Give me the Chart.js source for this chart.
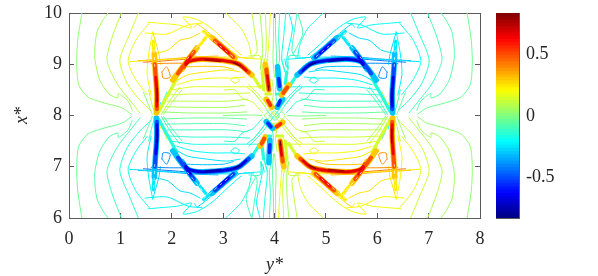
<!DOCTYPE html>
<html><head><meta charset="utf-8">
<script src="https://cdn.jsdelivr.net/npm/chart.js@4"></script>
<style>html,body{margin:0;background:#fff}canvas{position:absolute;left:0;top:0}</style>
</head><body>
<canvas id="main" width="598" height="276"></canvas>
<canvas id="bar" width="598" height="276"></canvas>
<script>
// every entry: [value, y*,x*, y*,x*, ...]
const xTicks=[0,1,2,3,4,5,6,7,8];
const yTicks=[6,7,8,9,10];
const barTicks=[-0.5,0,0.5];
const barMin=-0.83, barMax=0.837;
const upperLeftLines=[
[.03,.25,10,.17,9.47,.15,9.02,.19,8.6,.37,8.36,.7,8.24,1.03,8.15,1.21,8.03],
[.06,.76,10,.66,9.86,.54,9.61,.5,9.14,.6,8.69,.78,8.42,.95,8.34,.96,8.43,1.15,8.28,1.23,8.1],
[.09,1.02,10,.84,9.53,.74,9.08,.93,8.63,1.23,8.24,1.38,8.05],
[.13,1.35,10,1.19,9.61,.99,9.08,1.13,8.63,1.38,8.3,1.58,8.11],
[.17,1.58,9.82,1.3,9.47,1.15,9.06,1.3,8.7,1.52,8.41],
[.19,1.54,9.82,1.77,9.8,2.1,9.77,2.39,9.71,2.22,9.92,2.5,9.87,2.8,9.68,3.1,9.4,3.35,9.18],
[.22,1.48,9.61,1.91,9.59,2.32,9.77,2.59,9.8],
[.26,1.71,9.22,1.93,9.28,2.16,9.47,2.35,9.51,2.55,9.61],
[.27,2.44,9.72,2.5,9.78,2.8,9.55,3.1,9.3,3.3,9.15],
[.1,3.56,10,3.62,9.6,3.66,9.25,3.55,9.12],
[.15,3.05,10,3.35,9.7,3.5,9.4,3.55,9.15],
[.25,1.18,9.05,2,9.1,3,9.14,3.6,9.12],
[.45,1.45,9.04,1.9,9.07,2.4,9.11],[.35,1.35,9.07,1.9,9.1,2.4,9.14,2.9,9.16],[.4,1.6,9.01,1.95,9.02,2.3,9.02],
[.22,1.63,9.63,1.55,9.2,1.52,8.8,1.6,8.4],
[.26,1.63,9.63,1.75,9.2,1.78,9],
[.4,1.81,8.85,1.9,8.95,1.97,8.75,1.83,8.73,1.81,8.85],
[.3,2.3,8.95,2.6,8.96,3,8.95,3.2,8.9],
[.25,2.02,8.63,2.3,8.79,2.68,8.85,3.07,8.89,3.33,8.85],
[.2,2.1,8.6,2.41,8.69,2.8,8.73,3.19,8.73,3.42,8.75],
[.16,2,8.5,2.41,8.56,2.88,8.56,3.37,8.56,3.77,8.56],
[.13,1.93,8.4,2.41,8.42,3.07,8.42,3.52,8.44],
[.1,1.91,8.28,2.41,8.28,3.07,8.28,3.48,8.32],
[.07,1.87,8.17,2.35,8.16,3.07,8.16,3.42,8.2],
[.04,1.81,8.07,2.35,8.05,3.07,8.05,3.46,8.07],
[.16,3.15,8.69,3.23,8.75,3.32,8.69,3.23,8.63,3.15,8.69],
[.2,1.75,8.05,1.9,8.35,2.06,8.6],
[.12,1.8,8.02,1.97,8.3,2.15,8.55],
[.07,1.84,8.02,2,8.25,2.2,8.5],
[-.2,1.74,8.03,1.78,8.25],
[-.1,1.76,8.05,1.82,8.25,1.9,8.45],
[.1,1.55,8.5,1.62,8.2,1.68,8.02],
[.04,1.45,8.45,1.55,8.2,1.62,8.02]
];
const upperRightLines=[
[-.03,7.75,10,7.83,9.47,7.85,9.02,7.81,8.6,7.63,8.36,7.3,8.24,6.97,8.15,6.79,8.03],
[-.06,7.24,10,7.34,9.86,7.46,9.61,7.5,9.14,7.4,8.69,7.22,8.42,7.05,8.34,7.04,8.43,6.85,8.28,6.77,8.1],
[-.09,6.98,10,7.16,9.53,7.26,9.08,7.07,8.63,6.77,8.24,6.62,8.05],
[-.13,6.65,10,6.81,9.61,7.01,9.08,6.87,8.63,6.62,8.3,6.42,8.11],
[-.17,6.42,9.82,6.7,9.47,6.85,9.06,6.7,8.7,6.48,8.41],
[-.19,6.46,9.82,6.23,9.8,5.9,9.77,5.61,9.71,5.78,9.92,5.5,9.87,5.2,9.68,4.9,9.4,4.65,9.18],
[-.22,6.52,9.61,6.09,9.59,5.68,9.77,5.41,9.8],
[-.26,6.29,9.22,6.07,9.28,5.84,9.47,5.65,9.51,5.45,9.61],
[-.27,5.56,9.72,5.5,9.78,5.2,9.55,4.9,9.3,4.7,9.15],
[-.1,4.44,10,4.38,9.6,4.34,9.25,4.45,9.12],
[-.15,4.95,10,4.65,9.7,4.5,9.4,4.45,9.15],
[-.25,6.82,9.05,6,9.1,5,9.14,4.4,9.12],
[-.45,6.55,9.04,6.1,9.07,5.6,9.11],[-.35,6.65,9.07,6.1,9.1,5.6,9.14,5.1,9.16],[-.4,6.4,9.01,6.05,9.02,5.7,9.02],
[-.22,6.37,9.63,6.45,9.2,6.48,8.8,6.4,8.4],
[-.26,6.37,9.63,6.25,9.2,6.22,9],
[-.4,6.19,8.85,6.1,8.95,6.03,8.75,6.17,8.73,6.19,8.85],
[-.3,5.7,8.95,5.4,8.96,5,8.95,4.8,8.9],
[-.25,5.98,8.63,5.7,8.79,5.32,8.85,4.93,8.89,4.67,8.85],
[-.2,5.9,8.6,5.59,8.69,5.2,8.73,4.81,8.73,4.58,8.75],
[-.16,6,8.5,5.59,8.56,5.12,8.56,4.63,8.56,4.23,8.56],
[-.13,6.07,8.4,5.59,8.42,4.93,8.42,4.48,8.44],
[-.1,6.09,8.28,5.59,8.28,4.93,8.28,4.52,8.32],
[-.07,6.13,8.17,5.65,8.16,4.93,8.16,4.58,8.2],
[-.04,6.19,8.07,5.65,8.05,4.93,8.05,4.54,8.07],
[-.16,4.85,8.69,4.77,8.75,4.68,8.69,4.77,8.63,4.85,8.69],
[-.2,6.25,8.05,6.1,8.35,5.94,8.6],
[-.12,6.2,8.02,6.03,8.3,5.85,8.55],
[-.07,6.16,8.02,6,8.25,5.8,8.5],
[.2,6.26,8.03,6.22,8.25],
[.1,6.24,8.05,6.18,8.25,6.1,8.45],
[-.1,6.45,8.5,6.38,8.2,6.32,8.02],
[-.04,6.55,8.45,6.45,8.2,6.38,8.02]
];
const lowerLeftLines=[
[-.03,.25,6,.17,6.53,.15,6.98,.19,7.4,.37,7.64,.7,7.76,1.03,7.85,1.21,7.97],
[-.06,.76,6,.66,6.14,.54,6.39,.5,6.86,.6,7.31,.78,7.58,.95,7.66,.96,7.57,1.15,7.72,1.23,7.9],
[-.09,1.02,6,.84,6.47,.74,6.92,.93,7.37,1.23,7.76,1.38,7.95],
[-.13,1.35,6,1.19,6.39,.99,6.92,1.13,7.37,1.38,7.7,1.58,7.89],
[-.17,1.58,6.18,1.3,6.53,1.15,6.94,1.3,7.3,1.52,7.59],
[-.19,1.54,6.18,1.77,6.2,2.1,6.23,2.39,6.29,2.22,6.08,2.5,6.13,2.8,6.32,3.1,6.6,3.35,6.82],
[-.22,1.48,6.39,1.91,6.41,2.32,6.23,2.59,6.2],
[-.26,1.71,6.78,1.93,6.72,2.16,6.53,2.35,6.49,2.55,6.39],
[-.27,2.44,6.28,2.5,6.22,2.8,6.45,3.1,6.7,3.3,6.85],
[-.1,3.56,6,3.62,6.4,3.66,6.75,3.55,6.88],
[-.15,3.05,6,3.35,6.3,3.5,6.6,3.55,6.85],
[-.25,1.18,6.95,2,6.9,3,6.86,3.6,6.88],
[-.45,1.45,6.96,1.9,6.93,2.4,6.89],[-.35,1.35,6.93,1.9,6.9,2.4,6.86,2.9,6.84],[-.4,1.6,6.99,1.95,6.98,2.3,6.98],
[-.22,1.63,6.37,1.55,6.8,1.52,7.2,1.6,7.6],
[-.26,1.63,6.37,1.75,6.8,1.78,7],
[-.4,1.81,7.15,1.9,7.05,1.97,7.25,1.83,7.27,1.81,7.15],
[-.3,2.3,7.05,2.6,7.04,3,7.05,3.2,7.1],
[-.25,2.02,7.37,2.3,7.21,2.68,7.15,3.07,7.11,3.33,7.15],
[-.2,2.1,7.4,2.41,7.31,2.8,7.27,3.19,7.27,3.42,7.25],
[-.16,2,7.5,2.41,7.44,2.88,7.44,3.37,7.44,3.77,7.44],
[-.13,1.93,7.6,2.41,7.58,3.07,7.58,3.52,7.56],
[-.1,1.91,7.72,2.41,7.72,3.07,7.72,3.48,7.68],
[-.07,1.87,7.83,2.35,7.84,3.07,7.84,3.42,7.8],
[-.04,1.81,7.93,2.35,7.95,3.07,7.95,3.46,7.93],
[-.16,3.15,7.31,3.23,7.25,3.32,7.31,3.23,7.37,3.15,7.31],
[-.2,1.75,7.95,1.9,7.65,2.06,7.4],
[-.12,1.8,7.98,1.97,7.7,2.15,7.45],
[-.07,1.84,7.98,2,7.75,2.2,7.5],
[.2,1.74,7.97,1.78,7.75],
[.1,1.76,7.95,1.82,7.75,1.9,7.55],
[-.1,1.55,7.5,1.62,7.8,1.68,7.98],
[-.04,1.45,7.55,1.55,7.8,1.62,7.98]
];
const lowerRightLines=[
[.03,7.75,6,7.83,6.53,7.85,6.98,7.81,7.4,7.63,7.64,7.3,7.76,6.97,7.85,6.79,7.97],
[.06,7.24,6,7.34,6.14,7.46,6.39,7.5,6.86,7.4,7.31,7.22,7.58,7.05,7.66,7.04,7.57,6.85,7.72,6.77,7.9],
[.09,6.98,6,7.16,6.47,7.26,6.92,7.07,7.37,6.77,7.76,6.62,7.95],
[.13,6.65,6,6.81,6.39,7.01,6.92,6.87,7.37,6.62,7.7,6.42,7.89],
[.17,6.42,6.18,6.7,6.53,6.85,6.94,6.7,7.3,6.48,7.59],
[.19,6.46,6.18,6.23,6.2,5.9,6.23,5.61,6.29,5.78,6.08,5.5,6.13,5.2,6.32,4.9,6.6,4.65,6.82],
[.22,6.52,6.39,6.09,6.41,5.68,6.23,5.41,6.2],
[.26,6.29,6.78,6.07,6.72,5.84,6.53,5.65,6.49,5.45,6.39],
[.27,5.56,6.28,5.5,6.22,5.2,6.45,4.9,6.7,4.7,6.85],
[.1,4.44,6,4.38,6.4,4.34,6.75,4.45,6.88],
[.15,4.95,6,4.65,6.3,4.5,6.6,4.45,6.85],
[.25,6.82,6.95,6,6.9,5,6.86,4.4,6.88],
[.45,6.55,6.96,6.1,6.93,5.6,6.89],[.35,6.65,6.93,6.1,6.9,5.6,6.86,5.1,6.84],[.4,6.4,6.99,6.05,6.98,5.7,6.98],
[.22,6.37,6.37,6.45,6.8,6.48,7.2,6.4,7.6],
[.26,6.37,6.37,6.25,6.8,6.22,7],
[.4,6.19,7.15,6.1,7.05,6.03,7.25,6.17,7.27,6.19,7.15],
[.3,5.7,7.05,5.4,7.04,5,7.05,4.8,7.1],
[.25,5.98,7.37,5.7,7.21,5.32,7.15,4.93,7.11,4.67,7.15],
[.2,5.9,7.4,5.59,7.31,5.2,7.27,4.81,7.27,4.58,7.25],
[.16,6,7.5,5.59,7.44,5.12,7.44,4.63,7.44,4.23,7.44],
[.13,6.07,7.6,5.59,7.58,4.93,7.58,4.48,7.56],
[.1,6.09,7.72,5.59,7.72,4.93,7.72,4.52,7.68],
[.07,6.13,7.83,5.65,7.84,4.93,7.84,4.58,7.8],
[.04,6.19,7.93,5.65,7.95,4.93,7.95,4.54,7.93],
[.16,4.85,7.31,4.77,7.25,4.68,7.31,4.77,7.37,4.85,7.31],
[.2,6.25,7.95,6.1,7.65,5.94,7.4],
[.12,6.2,7.98,6.03,7.7,5.85,7.45],
[.07,6.16,7.98,6,7.75,5.8,7.5],
[-.2,6.26,7.97,6.22,7.75],
[-.1,6.24,7.95,6.18,7.75,6.1,7.55],
[.1,6.45,7.5,6.38,7.8,6.32,7.98],
[.04,6.55,7.55,6.45,7.8,6.38,7.98]
];
const centerLines=[
[.06,3.72,10,3.76,9.5,3.76,9.12,3.72,8.9],[.12,3.82,10,3.84,9.5,3.82,9.12,3.74,8.8],
[.18,3.92,10,3.9,9.6,3.86,9.12,3.78,8.8],[.03,3.98,10,3.98,9.5,3.97,9.1,4,8.75],
[-.05,4.02,10,4.02,9.6,4.04,9.12,4.02,8.75],[-.1,4.1,10,4.08,9.5,4.1,9.12,4.05,8.85],
[-.16,4.22,10,4.18,9.55,4.14,9.12,4.2,8.85],[-.21,4.28,10,4.35,9.7,4.24,9.12,4.26,8.9],
[-.08,4.45,10,4.55,9.6,4.35,9.17],
[.06,4.28,6,4.24,6.5,4.24,6.88,4.28,7.1],[.12,4.18,6,4.16,6.5,4.18,6.88,4.26,7.2],
[.18,4.08,6,4.1,6.4,4.14,6.88,4.22,7.2],[.03,4.02,6,4.02,6.5,4.03,6.9,4,7.25],
[-.05,3.98,6,3.98,6.4,3.96,6.88,3.98,7.25],[-.1,3.9,6,3.92,6.5,3.9,6.88,3.95,7.15],
[-.16,3.78,6,3.82,6.45,3.86,6.88,3.8,7.15],[-.21,3.72,6,3.65,6.3,3.76,6.88,3.74,7.1],
[-.08,3.55,6,3.45,6.4,3.65,6.83],
[.08,3.87,9.1,3.8,8.9],[.25,3.8,9.1,3.77,8.95],[-.25,4.2,9.1,4.23,8.95],[-.08,4.13,9.1,4.2,8.9],
[.08,4.13,6.9,4.2,7.1],[.25,4.2,6.9,4.23,7.05],[-.25,3.8,6.9,3.77,7.05],[-.08,3.87,6.9,3.8,7.1],
[.14,3.5,8.6,3.7,8.4,3.82,8.25,3.92,8.1,4,8],[.08,3.55,8.5,3.72,8.3,3.85,8.12],[.2,3.62,8.72,3.78,8.52,3.85,8.4],
[-.14,4.5,8.6,4.3,8.4,4.18,8.25,4.08,8.1,4,8],[-.08,4.45,8.5,4.28,8.3,4.15,8.12],[-.2,4.38,8.72,4.22,8.52,4.15,8.4],
[-.14,3.5,7.4,3.7,7.6,3.82,7.75,3.92,7.9,4,8],[-.08,3.55,7.5,3.72,7.7,3.85,7.88],[-.2,3.62,7.28,3.78,7.48,3.85,7.6],
[.14,4.5,7.4,4.3,7.6,4.18,7.75,4.08,7.9,4,8],[.08,4.45,7.5,4.28,7.7,4.15,7.88],[.2,4.38,7.28,4.22,7.48,4.15,7.6],
[.05,3.8,8,4,8.18,4.2,8,4,7.82,3.8,8],[-.05,3.9,8,4,8.09,4.1,8,4,7.91,3.9,8],
[-.1,3.85,8.1,4,7.95,4.15,8.1],[.1,3.85,7.9,4,8.05,4.15,7.9],[-.15,3.93,8.15,4.07,8.15],[.15,3.93,7.85,4.07,7.85],
[.12,3.03,8.5,3.23,8.5,3.37,8.34,3.58,8.26,3.68,8.15,3.77,8.05],
[-.12,4.97,8.5,4.77,8.5,4.63,8.34,4.42,8.26,4.32,8.15,4.23,8.05],
[-.12,3.03,7.5,3.23,7.5,3.37,7.66,3.58,7.74,3.68,7.85,3.77,7.95],
[.12,4.97,7.5,4.77,7.5,4.63,7.66,4.42,7.74,4.32,7.85,4.23,7.95],
[0,3,8,3.5,8.01,3.75,8],[0,5,8,4.5,7.99,4.25,8],
[.2,3.47,8.55,3.62,8.42,3.72,8.3,3.8,8.2],[-.2,4.53,8.55,4.38,8.42,4.28,8.3,4.2,8.2],
[-.2,3.47,7.45,3.62,7.58,3.72,7.7,3.8,7.8],[.2,4.53,7.45,4.38,7.58,4.28,7.7,4.2,7.8],
[.1,3.95,8.7,3.98,8.45,3.95,8.25],[-.1,4.05,8.7,4.02,8.45,4.05,8.25],
[-.1,3.95,7.3,3.98,7.55,3.95,7.75],[.1,4.05,7.3,4.02,7.55,4.05,7.75],
[.18,3.4,9.12,3.75,9.1],[.12,3.5,9.16,3.72,9.16,3.73,8.9],[-.18,4.6,9.12,4.25,9.1],[-.12,4.5,9.16,4.28,9.16,4.27,8.9],
[-.18,3.4,6.88,3.75,6.9],[-.12,3.5,6.84,3.72,6.84,3.73,7.1],[.18,4.6,6.88,4.25,6.9],[.12,4.5,6.84,4.28,6.84,4.27,7.1]
];
const upperLeftRidges=[
[.14,1.76,8.1,1.95,8.45,2.1,8.72],[.14,3.6,8.74,3.72,8.55],
[.24,1.66,9.1,1.64,9.45],[.24,2.78,9.5,2.62,9.64],[.24,2.55,9.38,2.66,9.52],
[.3,1.7,8.05,1.71,8.4,1.68,8.85,1.66,9.2],[.5,1.71,8.12,1.71,8.4,1.68,8.85,1.67,9],
[.65,1.71,8.18,1.71,8.45,1.69,8.75],[.82,1.72,8.27,1.72,8.53],
[.3,2.02,8.69,2.3,9.04,2.61,9.1,3.27,9.02,3.56,8.79],[.5,2.12,8.82,2.3,9.04,2.61,9.1,3.27,9.02,3.5,8.84],
[.68,2.27,8.99,2.35,9.06,2.61,9.1,2.94,9.08,3.27,9.02,3.45,8.88],[.82,3.2,9.03,3.33,8.97],[.75,2.65,9.09,2.95,9.06],
[.3,3.23,9.12,2.94,9.38,2.78,9.52],[.5,3.2,9.14,2.94,9.38,2.84,9.46],[.62,3.1,9.22,2.92,9.38],
[.3,2.2,8.9,2.31,9.08,2.49,9.32],[.5,2.24,8.95,2.31,9.08,2.43,9.24],[.62,2.27,9.02,2.36,9.14]
];
const upperRightRidges=[
[-.14,6.24,8.1,6.05,8.45,5.9,8.72],[-.14,4.4,8.74,4.28,8.55],
[-.24,6.34,9.1,6.36,9.45],[-.24,5.22,9.5,5.38,9.64],[-.24,5.45,9.38,5.34,9.52],
[-.3,6.3,8.05,6.29,8.4,6.32,8.85,6.34,9.2],[-.5,6.29,8.12,6.29,8.4,6.32,8.85,6.33,9],
[-.65,6.29,8.18,6.29,8.45,6.31,8.75],[-.82,6.28,8.27,6.28,8.53],
[-.3,5.98,8.69,5.7,9.04,5.39,9.1,4.73,9.02,4.44,8.79],[-.5,5.88,8.82,5.7,9.04,5.39,9.1,4.73,9.02,4.5,8.84],
[-.68,5.73,8.99,5.65,9.06,5.39,9.1,5.06,9.08,4.73,9.02,4.55,8.88],[-.82,4.8,9.03,4.67,8.97],[-.75,5.35,9.09,5.05,9.06],
[-.3,4.77,9.12,5.06,9.38,5.22,9.52],[-.5,4.8,9.14,5.06,9.38,5.16,9.46],[-.62,4.9,9.22,5.08,9.38],
[-.3,5.8,8.9,5.69,9.08,5.51,9.32],[-.5,5.76,8.95,5.69,9.08,5.57,9.24],[-.62,5.73,9.02,5.64,9.14]
];
const lowerLeftRidges=[
[-.14,1.76,7.9,1.95,7.55,2.1,7.28],[-.14,3.6,7.26,3.72,7.45],
[-.24,1.66,6.9,1.64,6.55],[-.24,2.78,6.5,2.62,6.36],[-.24,2.55,6.62,2.66,6.48],
[-.3,1.7,7.95,1.71,7.6,1.68,7.15,1.66,6.8],[-.5,1.71,7.88,1.71,7.6,1.68,7.15,1.67,7],
[-.65,1.71,7.82,1.71,7.55,1.69,7.25],[-.82,1.72,7.73,1.72,7.47],
[-.3,2.02,7.31,2.3,6.96,2.61,6.9,3.27,6.98,3.56,7.21],[-.5,2.12,7.18,2.3,6.96,2.61,6.9,3.27,6.98,3.5,7.16],
[-.68,2.27,7.01,2.35,6.94,2.61,6.9,2.94,6.92,3.27,6.98,3.45,7.12],[-.82,3.2,6.97,3.33,7.03],[-.75,2.65,6.91,2.95,6.94],
[-.3,3.23,6.88,2.94,6.62,2.78,6.48],[-.5,3.2,6.86,2.94,6.62,2.84,6.54],[-.62,3.1,6.78,2.92,6.62],
[-.3,2.2,7.1,2.31,6.92,2.49,6.68],[-.5,2.24,7.05,2.31,6.92,2.43,6.76],[-.62,2.27,6.98,2.36,6.86]
];
const lowerRightRidges=[
[.14,6.24,7.9,6.05,7.55,5.9,7.28],[.14,4.4,7.26,4.28,7.45],
[.24,6.34,6.9,6.36,6.55],[.24,5.22,6.5,5.38,6.36],[.24,5.45,6.62,5.34,6.48],
[.3,6.3,7.95,6.29,7.6,6.32,7.15,6.34,6.8],[.5,6.29,7.88,6.29,7.6,6.32,7.15,6.33,7],
[.65,6.29,7.82,6.29,7.55,6.31,7.25],[.82,6.28,7.73,6.28,7.47],
[.3,5.98,7.31,5.7,6.96,5.39,6.9,4.73,6.98,4.44,7.21],[.5,5.88,7.18,5.7,6.96,5.39,6.9,4.73,6.98,4.5,7.16],
[.68,5.73,7.01,5.65,6.94,5.39,6.9,5.06,6.92,4.73,6.98,4.55,7.12],[.82,4.8,6.97,4.67,7.03],[.75,5.35,6.91,5.05,6.94],
[.3,4.77,6.88,5.06,6.62,5.22,6.48],[.5,4.8,6.86,5.06,6.62,5.16,6.54],[.62,4.9,6.78,5.08,6.62],
[.3,5.8,7.1,5.69,6.92,5.51,6.68],[.5,5.76,7.05,5.69,6.92,5.57,6.76],[.62,5.73,6.98,5.64,6.86]
];
const centerRidges=[
[.14,3.76,8.85,3.79,8.5],[-.14,4.24,8.85,4.21,8.62],[.14,3.83,8.42,3.93,8.42],[-.14,4.04,8.42,4.16,8.42],
[-.14,3.76,7.38,3.79,7.15],[.14,4.24,7.15,4.21,7.5],[-.14,3.83,7.6,3.93,7.6],[.14,4.04,7.6,4.16,7.6],
[.3,3.82,9,3.85,8.83,3.89,8.5],[.5,3.84,8.9,3.89,8.5],[.68,3.86,8.78,3.89,8.56],[.84,3.88,8.58,3.89,8.5],
[-.3,4.06,8.95,4.1,8.52],[-.55,4.08,8.72,4.1,8.57],
[.3,4.14,8.4,4.28,8.6],[.5,4.17,8.44,4.25,8.55],
[.3,3.84,8.32,3.95,8.16],[.55,3.87,8.29,3.92,8.2],
[-.3,4.16,8.32,4.05,8.16],[-.55,4.11,8.29,4.07,8.2],
[-.3,3.84,7.88,3.96,7.75],[-.55,3.87,7.85,3.93,7.78],
[.3,4,7.75,4.16,7.87],[.55,4.04,7.78,4.12,7.84],
[.3,3.72,7.4,3.82,7.58],[.5,3.75,7.45,3.8,7.55],
[-.3,3.89,7.08,3.91,7.52],[-.55,3.9,7.28,3.91,7.43],
[.3,4.18,7,4.15,7.17,4.11,7.5],[.5,4.16,7.1,4.11,7.5],[.68,4.14,7.22,4.11,7.44],[.84,4.12,7.42,4.11,7.5]
];
const crestLines=[
[1.64,9.55,1.67,8.95],[2.62,9.62,3.2,9.14],[2.3,9.1,2.66,9.54],
[6.36,9.55,6.33,8.95],[5.38,9.62,4.8,9.14],[5.7,9.1,5.34,9.54],
[1.64,6.45,1.67,7.05],[2.62,6.38,3.2,6.86],[2.3,6.9,2.66,6.46],
[6.36,6.45,6.33,7.05],[5.38,6.38,4.8,6.86],[5.7,6.9,5.34,6.46]
];
const barSteps=Array.from({length:64},(_,i)=>i);

const clamp=v=>Math.max(0,Math.min(1,v));
function jet(t){return `rgb(${Math.round(255*clamp(1.5-Math.abs(4*t-3)))},${Math.round(255*clamp(1.5-Math.abs(4*t-2)))},${Math.round(255*clamp(1.5-Math.abs(4*t-1)))})`;}
const colorOf=v=>jet((v-barMin)/(barMax-barMin));
function toPoints(a,start){const p=[];for(let i=start;i<a.length;i+=2)p.push({x:a[i],y:a[i+1]});return p;}
const ridgeWidth=v=>Math.abs(v)<.28?3.2:8-8*Math.abs(v);
const base={pointRadius:0,fill:false,borderJoinStyle:'round',borderCapStyle:'round'};
const datasets=[];
[upperLeftLines,upperRightLines,lowerLeftLines,lowerRightLines,centerLines].forEach(g=>g.forEach(a=>datasets.push({...base,data:toPoints(a,1),borderColor:colorOf(a[0]),borderWidth:1,tension:0.25,order:0})));
[upperLeftRidges,upperRightRidges,lowerLeftRidges,lowerRightRidges,centerRidges].forEach(g=>g.forEach(a=>datasets.push({...base,data:toPoints(a,1),borderColor:colorOf(a[0]),borderWidth:ridgeWidth(a[0]),tension:0.3,order:-Math.abs(a[0])})));
crestLines.forEach(a=>datasets.push({...base,data:toPoints(a,0),borderColor:'rgba(255,255,255,0.85)',borderWidth:0.8,borderDash:[3,4],borderCapStyle:'butt',order:-2}));

const ink='#262626', edge='#5a5a5a';
const tickFont={family:'"Liberation Serif"',size:18};
const titleFont={family:'"Liberation Serif"',size:18,style:'italic'};
const inGrid={drawOnChartArea:false,tickLength:-5,tickColor:edge,tickWidth:1};
const edgeBorder={color:edge,width:1};
const noPad=s=>{s.paddingTop=0;s.paddingBottom=0;s.paddingLeft=0;s.paddingRight=0;};
new Chart(document.getElementById('main'),{
 type:'line',
 data:{datasets},
 options:{
  responsive:false,animation:false,parsing:false,normalized:false,
  layout:{padding:{left:0,right:118,top:13,bottom:0}},
  plugins:{legend:{display:false},tooltip:{enabled:false}},
  scales:{
   x:{type:'linear',position:'bottom',min:0,max:8,afterBuildTicks:s=>{s.ticks=xTicks.map(value=>({value}));},
      ticks:{color:ink,font:tickFont,padding:15,maxRotation:0},grid:inGrid,border:edgeBorder,
      title:{display:true,text:'y*',font:titleFont,color:ink,padding:{top:0,bottom:0}},
      afterFit:s=>{s.height=58;noPad(s);}},
   y:{type:'linear',position:'left',min:6,max:10,afterBuildTicks:s=>{s.ticks=yTicks.map(value=>({value}));},
      ticks:{color:ink,font:tickFont,padding:12},grid:inGrid,border:edgeBorder,
      title:{display:true,text:'x*',font:titleFont,color:ink,padding:{top:11,bottom:0}},
      afterFit:s=>{s.width=69;noPad(s);}},
   xTop:{type:'linear',axis:'x',position:'top',min:0,max:8,afterBuildTicks:s=>{s.ticks=xTicks.map(value=>({value}));},
      ticks:{display:false},grid:inGrid,border:edgeBorder,afterFit:s=>{s.height=0;noPad(s);}},
   yRight:{type:'linear',axis:'y',position:'right',min:6,max:10,afterBuildTicks:s=>{s.ticks=yTicks.map(value=>({value}));},
      ticks:{display:false},grid:inGrid,border:edgeBorder,afterFit:s=>{s.width=0;noPad(s);}}
  }
 }
});
const stepSize=(barMax-barMin)/barSteps.length;
new Chart(document.getElementById('bar'),{
 type:'bar',
 data:{labels:['c'],datasets:barSteps.map(i=>({data:[[barMin+i*stepSize,Math.min(barMax,barMin+(i+1.3)*stepSize)]],backgroundColor:jet((i+0.5)/barSteps.length),borderWidth:0,barPercentage:1,categoryPercentage:1,grouped:false,order:-i}))},
 options:{
  responsive:false,animation:false,
  layout:{padding:{left:496,right:0,top:13,bottom:0}},
  plugins:{legend:{display:false},tooltip:{enabled:false}},
  scales:{
   x:{stacked:false,position:'bottom',ticks:{display:false},grid:{display:false},border:edgeBorder,afterFit:s=>{s.height=58;noPad(s);}},
   xTop:{type:'category',axis:'x',position:'top',labels:['c'],ticks:{display:false},grid:{display:false},border:edgeBorder,afterFit:s=>{s.height=0;noPad(s);}},
   yLeft:{type:'linear',axis:'y',position:'left',min:barMin,max:barMax,ticks:{display:false},grid:{display:false},border:edgeBorder,afterFit:s=>{s.width=0;noPad(s);}},
   y:{type:'linear',position:'right',min:barMin,max:barMax,afterBuildTicks:s=>{s.ticks=barTicks.map(value=>({value}));},
      ticks:{color:ink,font:tickFont,padding:11,callback:v=>String(v)},grid:{drawOnChartArea:false,tickLength:-4,tickColor:edge,tickWidth:1},border:edgeBorder,afterFit:s=>{s.width=79;noPad(s);}}
  }
 }
});
</script>
</body></html>
